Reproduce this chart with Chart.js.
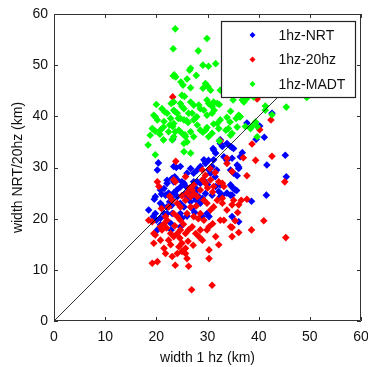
<!DOCTYPE html>
<html>
<head>
<meta charset="utf-8">
<script src="https://cdn.jsdelivr.net/npm/chart.js@4.4.0/dist/chart.umd.min.js"></script>
<style>
html,body{margin:0;padding:0;background:#fff;}
canvas{display:block;}
</style>
</head>
<body>
<canvas id="c" width="368" height="367"></canvas>
<script>
// ---- data ----
const xTicks = [0, 10, 20, 30, 40, 50, 60];
const yTicks = [0, 10, 20, 30, 40, 50, 60];
const seriesNames = ['1hz-NRT', '1hz-20hz', '1hz-MADT'];
const seriesColors = ['#0000ff', '#ff0000', '#00ff00'];
const xTitle = 'width 1 hz (km)';
const yTitle = 'width NRT/20hz (km)';
const refLineX = [0, 55];

const nrtX = [20.4,20.2,19.6,18.5,19.4,20.0,20.2,20.8,21.5,22.1,22.4,22.9,23.4,23.9,24.7,23.6,24.1,25.0,25.8,23.4,24.1,24.7,25.4,24.7,25.0,24.7,27.3,27.3,28.0,28.3,28.6,29.0,29.3,29.6,30.3,30.6,28.6,28.0,29.9,30.3,29.0,31.2,31.6,32.5,32.9,33.8,34.5,35.1,31.6,32.2,32.5,33.8,34.5,35.1,35.7,34.5,35.1,35.8,36.1,36.4,36.8,37.7,39.5,40.2,41.1,41.6,41.5,42.6,45.2,45.4,38.6,36.1,34.8,31.2,30.9,26.0,26.7,22.1,22.1,21.5,20.8,22.8,22.9,26.0,26.7,27.0,27.8,23.1,19.8,23.2,31.1,32.5,29.6,30.2,33.2,33.8,34.8,34.8,36.1,35.8,34.8,35.4,34.8,23.1,22.1,20.8,21.8,24.7,25.4,28.6,29.3,28.0,31.5,32.5,34.5,26.7,27.3,29.6,30.9,32.9,23.4,20.8,26.0,27.5,19.8,21.2,22.6,24.0,25.6,26.4,27.6,30.0,31.8,23.0,21.0];
const nrtY = [30.9,29.5,23.8,21.7,20.4,19.7,17.8,23.0,25.9,26.9,25.0,24.0,30.2,30.0,30.2,28.2,27.6,27.2,26.3,25.0,24.3,23.0,22.3,21.0,20.1,18.4,28.9,27.2,25.6,24.3,23.0,24.0,31.5,30.8,29.5,28.9,30.2,29.5,21.0,20.4,20.4,33.4,32.8,34.7,34.1,34.7,34.1,33.7,26.3,25.3,24.3,25.0,24.6,25.9,25.5,29.5,28.9,30.5,29.8,32.1,32.9,38.7,35.5,38.1,35.9,30.5,24.6,40.6,32.4,28.2,23.4,19.4,20.4,31.5,30.2,28.9,29.8,22.3,21.0,21.0,20.1,19.1,17.8,24.0,23.3,22.0,23.6,21.0,21.0,35.5,33.7,35.4,31.1,31.4,32.1,31.4,31.8,33.9,30.1,28.4,26.2,25.6,24.6,27.9,27.5,25.6,24.6,26.2,26.9,26.9,27.5,27.2,28.2,26.6,26.6,24.9,24.3,24.9,24.6,24.6,27.2,18.8,20.5,21.2,24.3,22.5,23.3,25.6,24.8,25.6,26.0,26.7,29.5,22.6,24.8];

const hz20X = [23.2,39.7,42.4,40.2,38.7,39.4,42.6,45.1,45.3,41.0,38.6,36.1,37.7,37.7,37.0,34.8,36.6,36.1,34.8,35.9,35.4,34.8,34.8,20.2,20.5,23.4,23.7,25.7,27.3,27.0,29.0,29.6,30.6,31.2,32.2,32.5,33.8,33.8,32.9,33.2,35.1,33.8,32.5,33.2,34.5,18.5,19.2,19.5,19.8,19.5,20.8,21.1,21.8,22.1,20.8,21.5,21.8,23.1,23.7,19.2,20.2,26.0,24.4,25.0,25.7,22.8,23.4,24.1,24.7,25.7,26.3,27.0,27.7,28.3,29.0,29.9,30.3,31.6,32.2,30.3,30.3,26.3,26.9,30.9,22.4,22.8,25.0,25.7,24.1,28.6,29.3,29.9,28.0,28.6,25.7,26.0,24.1,24.7,23.1,22.4,23.4,24.1,24.7,26.0,26.7,27.3,28.6,29.3,30.6,31.2,31.9,32.9,32.9,29.0,29.6,27.3,26.7,23.8,25.0,26.5,27.8,22.6,21.0,21.5,30.0,31.0,30.5,31.5,24.6,26.2,27.2,25.3,23.6,22.0,28.2,31.0];
const hz20Y = [43.8,43.4,39.3,37.4,34.6,31.4,32.2,27.2,16.3,19.6,17.8,17.3,23.8,28.4,31.9,29.2,23.6,22.7,22.7,21.2,19.6,18.3,16.5,27.2,26.3,27.6,27.2,28.2,26.6,25.6,29.5,28.5,27.6,26.3,27.2,35.2,31.8,30.8,26.9,26.3,23.6,21.7,19.7,19.7,18.4,19.7,19.4,17.1,16.8,15.2,18.4,17.8,20.4,19.7,15.8,14.2,13.2,12.6,10.9,11.3,11.6,12.2,14.5,15.2,14.2,17.1,16.5,17.1,17.8,17.1,17.8,18.4,17.1,16.5,15.8,17.8,18.4,16.5,14.9,13.9,12.2,10.7,6.1,7.0,15.8,14.9,13.6,13.2,13.2,17.8,23.6,23.0,24.3,25.6,23.6,25.0,23.0,22.3,23.6,22.3,21.0,20.4,19.7,21.0,22.3,20.4,21.0,19.7,21.7,22.3,23.6,24.0,23.0,27.6,26.9,24.9,24.3,31.2,24.5,26.0,22.5,24.4,22.0,19.0,26.0,25.2,29.8,29.0,16.2,15.6,14.8,18.9,18.6,18.2,20.0,19.0];

const madtX = [23.7,23.3,29.9,28.2,29.1,30.2,31.6,26.7,26.5,23.5,23.8,23.3,24.8,25.2,26.0,27.8,26.7,29.6,30.1,30.6,20.0,25.0,25.5,21.1,21.6,23.4,23.7,25.0,25.4,26.3,27.0,28.3,28.6,29.9,30.2,30.9,31.2,31.9,32.3,31.3,30.9,32.5,35.0,34.5,36.8,39.0,34.5,23.4,26.7,19.5,19.8,19.2,18.8,18.4,19.8,21.4,20.8,21.4,22.1,22.8,23.4,24.1,24.7,25.4,24.4,25.0,25.7,26.0,25.4,27.3,28.0,29.3,29.9,29.6,30.2,30.9,31.9,32.5,32.2,26.7,25.4,32.3,34.5,36.1,34.1,22.4,23.4,26.7,27.3,37.4,38.7,39.7,41.3,45.4,42.6,49.4,33.6,33.8,34.4,35.6,36.3,29.9,31.2,20.2,21.5,19.8,22.6,23.2,24.3,25.9,26.2,27.9,28.6,29.1,23.1,23.7,20.7,25.6,22.9,24.7,27.3,29.1,37.1,37.7,41.3,36.4,35.8,39.4,38.4,34.8,39.7];
const madtY = [57.1,53.2,55.2,52.8,50.0,49.8,50.3,49.4,49.0,48.1,47.7,47.9,46.7,46.1,47.3,48.0,45.6,46.4,45.8,45.1,42.3,44.1,43.9,41.5,40.9,41.2,40.9,41.9,41.5,40.6,40.6,42.2,41.5,43.2,42.5,41.9,42.8,42.5,42.3,41.2,40.6,45.1,43.2,41.0,43.2,43.8,45.3,42.8,42.8,40.2,39.9,37.6,36.3,34.4,32.5,35.4,37.3,37.9,40.6,39.6,38.6,40.6,39.6,39.3,37.3,36.7,36.0,35.0,34.7,39.3,38.3,41.2,40.2,37.3,36.0,36.7,38.6,39.3,37.6,32.8,33.1,35.2,36.3,40.2,37.6,37.0,36.0,37.0,36.0,38.0,38.1,38.0,41.2,41.8,40.3,43.7,37.3,39.8,38.9,39.6,40.0,37.8,38.5,39.3,39.0,37.1,38.3,38.0,39.6,39.2,38.8,39.9,37.3,36.9,35.4,37.0,36.5,36.4,42.5,42.5,42.2,45.5,42.8,43.5,42.0,39.9,37.9,38.9,37.6,36.7,36.0];

// ---- build ----
function pts(xs, ys) { return xs.map((x, i) => ({x: x, y: ys[i]})); }
const FONT = "'Liberation Sans', Arial, sans-serif";

function diamond(ctx, x, y, r, color) {
  ctx.beginPath();
  ctx.moveTo(x, y - r);
  ctx.lineTo(x + r, y);
  ctx.lineTo(x, y + r);
  ctx.lineTo(x - r, y);
  ctx.closePath();
  ctx.fillStyle = color;
  ctx.fill();
}

const framePlugin = {
  id: 'frame',
  afterDatasetsDraw(chart) {
    const ctx = chart.ctx, a = chart.chartArea;
    const sx = chart.scales.x, sy = chart.scales.y;
    ctx.save();
    ctx.strokeStyle = '#333333';
    ctx.lineWidth = 1;
    ctx.beginPath();
    ctx.rect(Math.round(a.left) + 0.5, Math.round(a.top) + 0.5, Math.round(a.right - a.left) - 1, Math.round(a.bottom - a.top) - 1);
    ctx.stroke();
    const tl = 4;
    ctx.beginPath();
    sx.ticks.forEach(t => {
      const px = Math.round(sx.getPixelForValue(t.value)) + 0.5;
      ctx.moveTo(px, a.bottom); ctx.lineTo(px, a.bottom - tl);
      ctx.moveTo(px, a.top); ctx.lineTo(px, a.top + tl);
    });
    sy.ticks.forEach(t => {
      const py = Math.round(sy.getPixelForValue(t.value)) + 0.5;
      ctx.moveTo(a.left, py); ctx.lineTo(a.left + tl, py);
      ctx.moveTo(a.right, py); ctx.lineTo(a.right - tl, py);
    });
    ctx.stroke();

    // legend box
    const lx = Math.round(a.right - 140) + 0.5, ly = Math.round(a.top + 7) + 0.5;
    const lw = 134, lh = 76;
    ctx.fillStyle = '#ffffff';
    ctx.fillRect(lx, ly, lw, lh);
    ctx.strokeStyle = '#222222';
    ctx.lineWidth = 1.2;
    ctx.strokeRect(lx, ly, lw, lh);
    ctx.font = '14px ' + FONT;
    ctx.textBaseline = 'middle';
    ctx.textAlign = 'left';
    seriesNames.forEach((name, i) => {
      const cy = ly + 13.5 + i * 24.5;
      diamond(ctx, lx + 31, cy, 3, seriesColors[i]);
      ctx.fillStyle = '#111111';
      ctx.fillText(name, lx + 57, cy + 1);
    });
    ctx.restore();
  }
};

const dsStyle = (i, order) => ({
  label: seriesNames[i],
  backgroundColor: seriesColors[i],
  borderColor: seriesColors[i],
  borderWidth: 0,
  pointStyle: 'rectRot',
  pointRadius: 3.8,
  pointHoverRadius: 3.8,
  order: order
});

new Chart(document.getElementById('c'), {
  type: 'scatter',
  data: {
    datasets: [
      Object.assign({data: pts(nrtX, nrtY)}, dsStyle(0, 3)),
      Object.assign({data: pts(hz20X, hz20Y)}, dsStyle(1, 2)),
      Object.assign({data: pts(madtX, madtY)}, dsStyle(2, 1)),
      {
        type: 'line',
        label: 'ref',
        data: refLineX.map(v => ({x: v, y: v})),
        borderColor: '#000000',
        borderWidth: 0.8,
        pointRadius: 0,
        fill: false,
        order: 0
      }
    ]
  },
  options: {
    responsive: false,
    animation: false,
    devicePixelRatio: 1,
    events: [],
    layout: {padding: {top: 14, right: 7, left: 0, bottom: 0}},
    plugins: {legend: {display: false}, tooltip: {enabled: false}},
    scales: {
      x: {
        type: 'linear', min: 0, max: 60,
        afterBuildTicks: s => { s.ticks = xTicks.map(v => ({value: v})); },
        afterFit: s => { s.height = 46; s.paddingLeft = 0; s.paddingRight = 0; },
        ticks: {color: '#111', font: {size: 14, family: FONT}, padding: 8, maxRotation: 0, autoSkip: false},
        grid: {display: false, drawTicks: false},
        border: {display: false},
        title: {display: true, text: xTitle, color: '#111', font: {size: 14, family: FONT}, padding: {top: 0, bottom: 0}}
      },
      y: {
        type: 'linear', min: 0, max: 60,
        afterBuildTicks: s => { s.ticks = yTicks.map(v => ({value: v})); },
        afterFit: s => { s.width = 54; s.paddingTop = 0; s.paddingBottom = 0; },
        ticks: {color: '#111', font: {size: 14, family: FONT}, padding: 6, autoSkip: false},
        grid: {display: false, drawTicks: false},
        border: {display: false},
        title: {display: true, text: yTitle, color: '#111', font: {size: 14, family: FONT}, padding: {top: 10, bottom: 0}}
      }
    }
  },
  plugins: [framePlugin]
});
</script>
</body>
</html>
